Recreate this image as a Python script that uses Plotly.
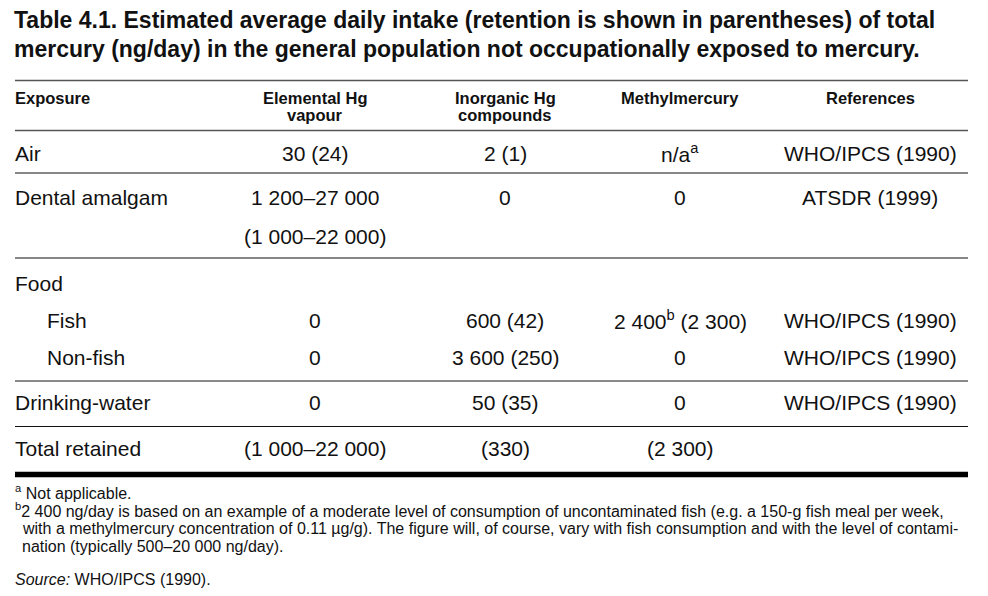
import plotly.graph_objects as go

# ---------------- data ----------------
title_lines = [
    "Table 4.1. Estimated average daily intake (retention is shown in parentheses) of total",
    "mercury (ng/day) in the general population not occupationally exposed to mercury.",
]
header_exposure = "Exposure"
header_elemental = ["Elemental Hg", "vapour"]
header_inorganic = ["Inorganic Hg", "compounds"]
header_methyl = ["Methylmercury"]
header_refs = ["References"]

exposure_labels = ["Air", "Dental amalgam", "", "Food", "Fish", "Non-fish", "Drinking-water", "Total retained"]
exposure_indent = [False, False, False, False, True, True, False, False]
elemental_hg = ["30 (24)", "1 200–27 000", "(1 000–22 000)", "", "0", "0", "0", "(1 000–22 000)"]
inorganic_hg = ["2 (1)", "0", "", "", "600 (42)", "3 600 (250)", "50 (35)", "(330)"]
methylmercury = ["n/a<sup>a</sup>", "0", "", "", "2 400<sup>b</sup> (2 300)", "0", "0", "(2 300)"]
references = ["WHO/IPCS (1990)", "ATSDR (1999)", "", "", "WHO/IPCS (1990)", "WHO/IPCS (1990)",
              "WHO/IPCS (1990)", ""]

footnotes = [
    "<sup>a</sup> Not applicable.",
    "<sup>b</sup>2 400 ng/day is based on an example of a moderate level of consumption of uncontaminated fish (e.g. a 150-g fish meal per week,",
    "with a methylmercury concentration of 0.11 µg/g). The figure will, of course, vary with fish consumption and with the level of contami-",
    "nation (typically 500–20 000 ng/day).",
]
source_note = "<i>Source:</i> WHO/IPCS (1990)."

# ---------------- layout (pixels, screen coordinates) ----------------
W, H = 988, 596
OFF = 8  # page body margin
FONT = "Liberation Sans"
title_y = [20, 49]
row_y = [153, 198, 236, 283, 320, 357, 402, 448]
col_x = [315, 505, 680, 870]
left_x, indent_x, right_x = 15, 47, 968
rules = [  # y, width, color
    (80.5, 1.3, "#555555"),
    (130.5, 1.3, "#555555"),
    (173, 1.2, "#111111"),
    (258, 1.2, "#111111"),
    (381, 2.2, "#8a8a8a"),
    (426.5, 1.2, "#111111"),
    (474.5, 5.5, "#000000"),
]


def px(x):
    return (x - OFF) / W


def py(y):
    return 1 - (y - OFF) / H


annotations = []


def add_text(text, x, y, size, anchor="left", color="#111111"):
    annotations.append(dict(
        text=text, x=px(x), y=py(y), xref="paper", yref="paper",
        xanchor=anchor, yanchor="middle", showarrow=False, borderpad=0, borderwidth=0,
        font=dict(family=FONT, size=size, color=color),
    ))


# title
for t, y in zip(title_lines, title_y):
    add_text("<b>" + t + "</b>", 14, y, 23)

# header
add_text("<b>" + header_exposure + "</b>", left_x, 98, 16.5)
for cx, lines in zip(col_x, [header_elemental, header_inorganic, header_methyl, header_refs]):
    for j, t in enumerate(lines):
        add_text("<b>" + t + "</b>", cx, 98 + j * 17, 16.5, anchor="center")

# body
for i, y in enumerate(row_y):
    if exposure_labels[i]:
        add_text(exposure_labels[i], indent_x if exposure_indent[i] else left_x, y, 21)
    for cx, col in zip(col_x, [elemental_hg, inorganic_hg, methylmercury, references]):
        if col[i]:
            add_text(col[i], cx, y, 21, anchor="center")

# footnotes
fn_y = [492, 510, 528, 546]
fn_x = [15, 15, 22, 22]
for t, x, y in zip(footnotes, fn_x, fn_y):
    add_text(t, x, y, 16)
add_text(source_note, 15, 579, 16)

shapes = [
    dict(type="line", xref="paper", yref="paper", x0=px(left_x), x1=px(right_x),
         y0=py(y), y1=py(y), line=dict(color=c, width=w))
    for y, w, c in rules
]

fig = go.Figure()
fig.update_layout(
    width=W, height=H, margin=dict(l=0, r=0, t=0, b=0),
    paper_bgcolor="white", plot_bgcolor="white",
    xaxis=dict(visible=False, range=[0, 1]), yaxis=dict(visible=False, range=[0, 1]),
    annotations=annotations, shapes=shapes, showlegend=False,
)
fig.write_html("out.html")
